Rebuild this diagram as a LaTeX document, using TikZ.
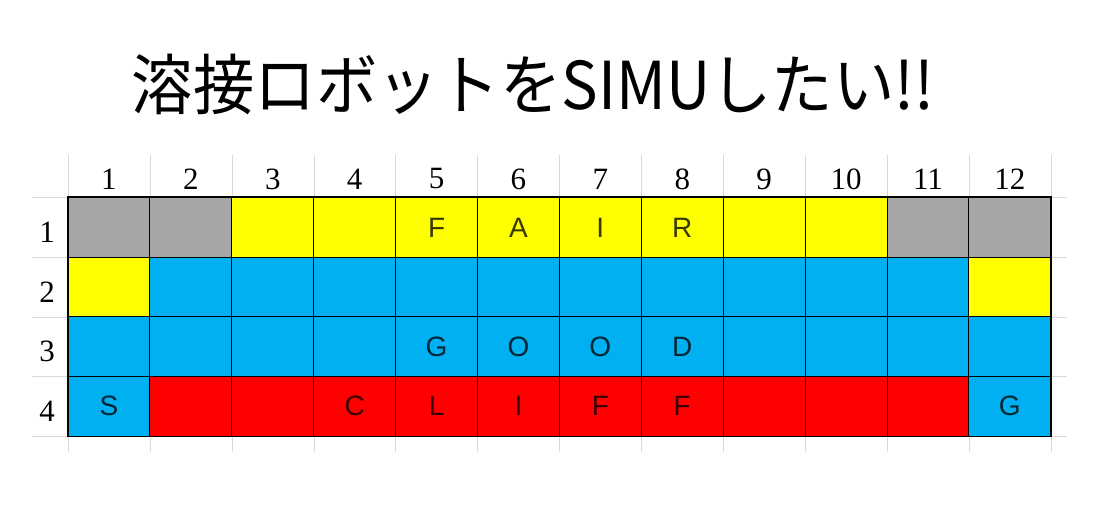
\documentclass[tikz,border=0pt]{standalone}
\usepackage{fontspec}
\setmainfont{Liberation Serif}
\setsansfont{Liberation Sans}
\newfontfamily\jpfont[FakeStretch=0.93]{Noto Sans CJK JP}
\definecolor{gris}{HTML}{A6A6A6}
\definecolor{amarillo}{HTML}{FFFF00}
\definecolor{azul}{HTML}{00B0F0}
\definecolor{rojo}{HTML}{FF0000}
\definecolor{rejilla}{HTML}{D9D9D9}

\begin{document}
\begin{tikzpicture}[x=1pt,y=-1pt,
    celda/.style={draw=black, line width=0.9pt, minimum width=81.9pt,
      minimum height=59.6pt, inner sep=0pt,
      font=\sffamily\fontsize{28}{28}\selectfont},
    indice/.style={font=\fontsize{31}{31}\selectfont}]
    \useasboundingbox (0,0) rectangle (1105,510);

    % Título
    \node (titulo) at (533,84) {\jpfont\fontsize{66}{66}\selectfont 溶接ロボットをSIMUしたい!!};

    % Rejilla de fondo
    \foreach \k in {0,...,12}
        \draw[rejilla] ({68+81.9*\k},155) -- ({68+81.9*\k},452);
    \foreach \k in {0,...,4}
        \draw[rejilla] (32,{197.7+59.6*\k}) -- (1067,{197.7+59.6*\k});

    % Celdas del mapa
    \foreach \fila [count=\r] in {
        {gris/,gris/,amarillo/,amarillo/,amarillo/F,amarillo/A,amarillo/I,amarillo/R,amarillo/,amarillo/,gris/,gris/},
        {amarillo/,azul/,azul/,azul/,azul/,azul/,azul/,azul/,azul/,azul/,azul/,amarillo/},
        {azul/,azul/,azul/,azul/,azul/G,azul/O,azul/O,azul/D,azul/,azul/,azul/,azul/},
        {azul/S,rojo/,rojo/,rojo/C,rojo/L,rojo/I,rojo/F,rojo/F,rojo/,rojo/,rojo/,azul/G}}
        \foreach \f/\t [count=\c] in \fila
            \node[celda, fill=\f, text=\f!22!black] (c\r-\c)
                at ({68+81.9*(\c-0.5)},{197.7+59.6*(\r-0.5)}) {\t};

    % Borde exterior
    \draw[line width=1.6pt] (c1-1.north west) rectangle (c4-12.south east);

    % Números de columnas y filas
    \foreach \c in {1,...,12}
        \node[indice] (col\c) at ({68+81.9*(\c-0.5)},179) {\c};
    \foreach \r in {1,...,4}
        \node[indice] (fila\r) at (47,{202.7+59.6*(\r-0.5)}) {\r};
\end{tikzpicture}
\end{document}
